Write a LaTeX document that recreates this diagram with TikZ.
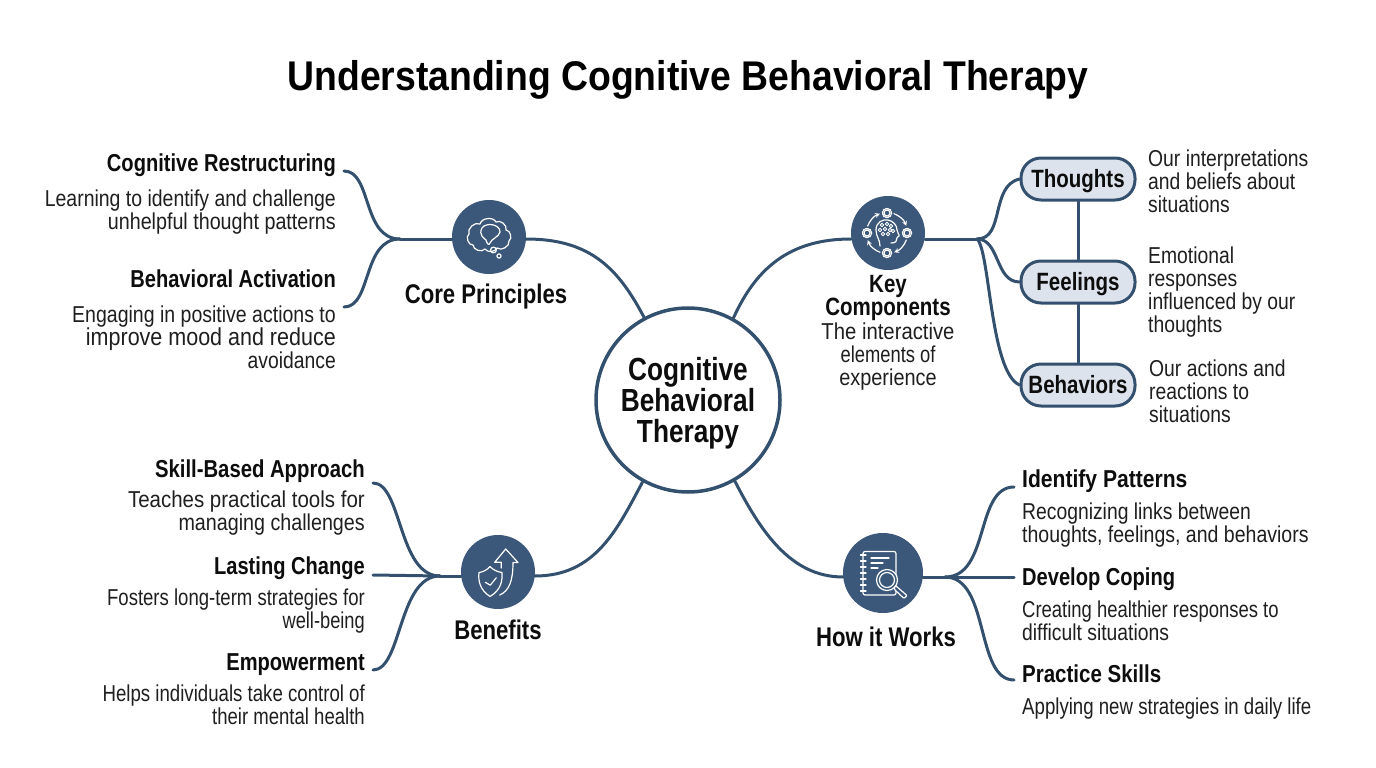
\documentclass[tikz,border=0pt]{standalone}
\usepackage{fontspec}
\usepackage{graphicx}
\setmainfont{Liberation Sans}
\newfontfamily\nfont{Liberation Sans}[FakeStretch=0.82]
\newfontfamily\bfont{Liberation Sans}[FakeStretch=0.84]
\newfontfamily\tfont{Liberation Sans}[FakeStretch=0.9]
\usetikzlibrary{calc}
\definecolor{navy}{HTML}{34506F}
\definecolor{hubblue}{HTML}{3B5779}
\definecolor{pillfill}{HTML}{DDE3ED}
\newcommand{\bodysz}{\fontsize{23}{23}\selectfont}
\newcommand{\headsz}{\fontsize{24.5}{24.5}\selectfont}
\newcommand{\hs}[2]{\scalebox{#1}[1]{#2}}
\tikzset{
 x=1pt,y=-1pt,
 link/.style={draw=navy,line width=3pt,line cap=round},
 hub/.style={circle,fill=hubblue,inner sep=0pt},
 ico/.style={draw=white,line width=1.2pt,line join=round,line cap=round},
 pill/.style={draw=navy,line width=3pt,fill=pillfill,minimum width=114pt,minimum height=42pt,rounded corners=20pt,inner sep=0pt,font=\nfont\bfseries\fontsize{25}{25}\selectfont,text=black!95},
 hr/.style={anchor=north east,inner sep=0pt,font=\nfont\bfseries\headsz,text=black!95},
 hl/.style={anchor=north west,inner sep=0pt,font=\nfont\bfseries\headsz,text=black!95},
 br/.style={anchor=north east,inner sep=0pt,align=right,font=\bfont\bodysz,text=black!88},
 bl/.style={anchor=north west,inner sep=0pt,align=left,font=\bfont\bodysz,text=black!88},
 bc/.style={anchor=center,inner sep=0pt,align=center,font=\nfont\bfseries\fontsize{27}{27}\selectfont,text=black!95},
}
\begin{document}
\begin{tikzpicture}
\useasboundingbox (0,0) rectangle (1376,768);
\fill[white] (0,0) rectangle (1376,768);
\node[inner sep=0pt,font=\tfont\bfseries\fontsize{41.5}{41.5}\selectfont,text=black] (title) at (688,80) {Understanding Cognitive Behavioral Therapy};

% central node
\node[circle,draw=navy,line width=3.5pt,fill=white,minimum size=184pt,inner sep=0pt] (cen) at (688,400) {};
\node[inner sep=0pt,align=center,font=\nfont\bfseries\fontsize{32}{31}\selectfont,text=black!95] (cent) at (688,403) {Cognitive\\Behavioral\\Therapy};

% hubs
\node[hub,minimum size=74pt] (cp) at (489,237) {};
\node[hub,minimum size=74pt] (kc) at (888,233) {};
\node[hub,minimum size=74pt] (be) at (498,572) {};
\node[hub,minimum size=80pt] (hw) at (883,573) {};

% pills
\node[pill] (th) at (1078,179) {\raisebox{-8.5pt}[0pt][0pt]{Thoughts}};
\node[pill] (fe) at (1078,282) {\raisebox{-8.5pt}[0pt][0pt]{Feelings}};
\node[pill] (bh) at (1078,385) {\raisebox{-8.5pt}[0pt][0pt]{Behaviors}};

% junctions and free ends
\coordinate (cpj) at (400,239);
\coordinate (cpa) at (344,171);
\coordinate (cpb) at (344,307);
\coordinate (kcj) at (977,239);
\coordinate (bej) at (440,576);
\coordinate (bea) at (373,483);
\coordinate (beb) at (373,575);
\coordinate (bec) at (373,670);
\coordinate (hwj) at (945,577);
\coordinate (hwa) at (1014,487);
\coordinate (hwb) at (1014,577);
\coordinate (hwc) at (1014,680);
\coordinate (cpr) at (526,239);
\coordinate (cpl) at (452,239);
\coordinate (kcl) at (851,239);
\coordinate (kcr) at (925,239);
\coordinate (ber) at (535,576);
\coordinate (bel) at (461,576);
\coordinate (hwl) at (843,577);
\coordinate (hwr) at (923,577);

\draw[link] (cpr) .. controls (590,239) and (618,268) .. (cen.118);
\draw[link] (kcl) .. controls (790,239) and (756,268) .. (cen.61);
\draw[link] (ber) .. controls (595,576) and (617,530) .. (cen.241);
\draw[link] (hwl) .. controls (790,577) and (760,530) .. (cen.300);
\draw[link] (cpl) -- (cpj);
\draw[link] (cpj) .. controls (362,239) and (372,171) .. (cpa);
\draw[link] (cpj) .. controls (362,239) and (372,307) .. (cpb);
\draw[link] (kcr) -- (kcj);
\draw[link] (kcj) .. controls (1005,239) and (990,186) .. (th.west);
\draw[link] (kcj) .. controls (1000,239) and (995,282) .. (fe.west);
\draw[link] (kcj) .. controls (990,250) and (990,372) .. (bh.west);
\draw[link] (th) -- (fe);
\draw[link] (fe) -- (bh);
\draw[link] (bel) -- (bej);
\draw[link] (bej) .. controls (398,576) and (402,483) .. (bea);
\draw[link] (bej) -- (beb);
\draw[link] (bej) .. controls (398,576) and (402,670) .. (bec);
\draw[link] (hwr) -- (hwj);
\draw[link] (hwj) .. controls (990,577) and (975,487) .. (hwa);
\draw[link] (hwj) -- (hwb);
\draw[link] (hwj) .. controls (990,577) and (975,680) .. (hwc);

% --- icon: thought cloud
\begin{scope}[shift={(489,237)},ico]
\draw (-9,-13) to[bend left=70] (7,-15) to[bend left=70] (17,-7) to[bend left=70] (20,4) to[bend left=70] (8,11) to[bend left=60] (-4,12) to[bend left=70] (-16,8) to[bend left=80] (-20,-3) to[bend left=70] (-9,-13);
\draw (-7,-9) .. controls (-11,-2) and (-4,2) .. (-3,3) .. controls (-2,7) and (0,9) .. (1,6) .. controls (2,2) and (10,0) .. (11,-5) .. controls (11,-13) and (-3,-15) .. (-7,-9);
\draw (4.5,13) circle (2.9);
\draw (10,19) circle (2.1);
\end{scope}

% --- icon: head and cycle
\begin{scope}[shift={(887,233)},ico]
\draw[->,>=stealth] (7,-19.3) arc (-70:-20:20.5);
\draw[->,>=stealth] (19.3,7) arc (20:70:20.5);
\draw[->,>=stealth] (-7,19.3) arc (110:160:20.5);
\draw[->,>=stealth] (-19.3,-7) arc (-160:-110:20.5);
\foreach \a/\b in {0/-20,20/0,0/20,-20/0}{
 \draw[fill=hubblue] (\a,\b) circle (3);
 \draw[densely dotted,line width=1.4pt] (\a,\b) circle (4.6);
}
\draw (-7,13) .. controls (-7,6) and (-11,4) .. (-11,-3) .. controls (-11,-11) and (-4,-14) .. (1,-13) .. controls (6,-12) and (10,-8) .. (10,-3) .. controls (10,0) and (13,2) .. (12,3) .. controls (11,4) and (10,4) .. (10,5) .. controls (10,8) and (9,10) .. (4,10);
\foreach \p in {(-5,-8),(0,-9),(4,-7),(-7,-3),(-2,-4),(3,-3),(6,-2),(-4,1),(1,1)}{
 \draw[line width=.9pt] \p circle (1.8);
}
\end{scope}

% --- icon: shield and arrow
\begin{scope}[shift={(498,571)},ico]
\draw (-8,-4.5) .. controls (-5,-1) and (0,1) .. (4,1.5) .. controls (4.5,10) and (3,19) .. (-8,25.5) .. controls (-18,19) and (-20,10) .. (-19,1.5) .. controls (-15,1) and (-11,-1) .. (-8,-4.5) -- cycle;
\draw (-12.7,11.3) -- (-7.7,14.2) -- (-1.7,6.7);
\draw (1.7,24) .. controls (11,20) and (15,10) .. (15,-8.5) -- (20,-8.5) -- (7.7,-22) -- (-3.3,-8.7) -- (3.3,-8.7) -- (3.3,-3);
\end{scope}

% --- icon: notebook and magnifier
\begin{scope}[shift={(883,572)},ico]
\draw[rounded corners=2pt] (-20,-20.5) rectangle (13,23);
\foreach \y in {-17,-11,-5,1,7,13,19}{
 \draw (-22.5,\y) -- (-17,\y);
}
\draw (-12,-14) -- (6,-14);
\draw (-12,-9) -- (0,-9);
\draw (-12,-4) -- (-5,-4);
\filldraw[fill=hubblue] (4,8) circle (10.5);
\draw (4,8) circle (7.5);
\draw[line width=1.2pt,rounded corners=1pt,fill=hubblue] (11,15.5) -- (13,14) -- (24,23.5) -- (21,26.5) -- (11.5,17.5) -- cycle;
\end{scope}

% --- texts
\node[hr] (t1) at (336,154) {Cognitive Restructuring};
\node[br] (t2) at (336,190) {\hs{1.007}{Learning to identify and challenge}\\\hs{1.02}{unhelpful thought patterns}};
\node[hr] (t3) at (336,270) {Behavioral Activation};
\node[br] (t4) at (336,306) {\hs{1.01}{Engaging in positive actions to}\\\hs{1.045}{\fontsize{24.5}{23}\selectfont improve mood and reduce}\\avoidance};
\node[bc] (t5) at (486,297) {Core Principles};

\node[hr] (t6) at (365,460) {\hs{1.01}{Skill-Based Approach}};
\node[br] (t7) at (365,491) {\hs{1.06}{Teaches practical tools for}\\\hs{1.02}{managing challenges}};
\node[hr] (t8) at (365,557) {Lasting Change};
\node[br] (t9) at (365,589) {\hs{.96}{Fosters long-term strategies for}\\\hs{.945}{well-being}};
\node[hr] (t10) at (365,653) {Empowerment};
\node[br] (t11) at (365,685) {\hs{.965}{Helps individuals take control of}\\\hs{.96}{their mental health}};
\node[bc] (t12) at (498,630) {Benefits};

\node[hl] (t13) at (1022,470) {\hs{1.05}{Identify Patterns}};
\node[bl] (t14) at (1022,503) {Recognizing links between\\\hs{1.01}{thoughts, feelings, and behaviors}};
\node[hl] (t15) at (1022,568) {Develop Coping};
\node[bl] (t16) at (1022,601) {\hs{.955}{Creating healthier responses to}\\difficult situations};
\node[hl] (t17) at (1022,665) {\hs{1.02}{Practice Skills}};
\node[bl] (t18) at (1022,698) {\hs{.965}{Applying new strategies in daily life}};
\node[bc] (t19) at (886,637) {How it Works};

\node[bc,font=\nfont\bfseries\fontsize{25}{21}\selectfont] (t20) at (888,298) {Key\\Components};
\node[inner sep=0pt,align=center,font=\bfont\bodysz,text=black!88] (t21) at (888,357) {\hs{1.05}{The interactive}\\\hs{.95}{elements of}\\\hs{1.03}{experience}};

\node[bl] (t22) at (1148,150) {Our interpretations\\and beliefs about\\situations};
\node[bl] (t23) at (1148,247) {Emotional\\responses\\influenced by our\\thoughts};
\node[bl] (t24) at (1149,360) {Our actions and\\reactions to\\situations};
\end{tikzpicture}
\end{document}
